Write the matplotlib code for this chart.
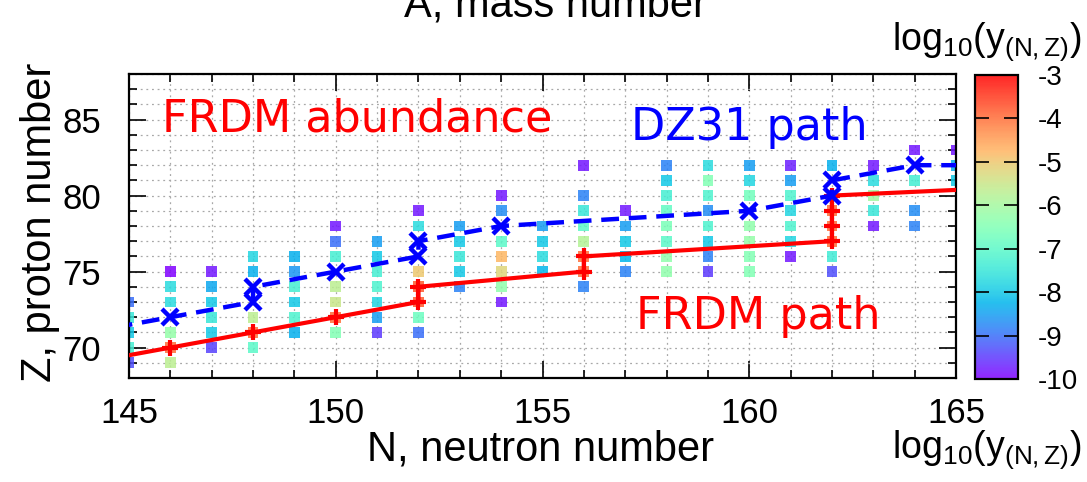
import matplotlib
matplotlib.use("Agg")
import matplotlib.pyplot as plt
import numpy as np
from matplotlib.colors import ListedColormap
from matplotlib.ticker import MultipleLocator

# abundance cells: neutron number, proton number, log10 abundance
cell_n = [145]*5 + [146]*6 + [147]*6 + [148]*5 + [149]*6 + [150]*7 + [151]*7 \
    + [152]*7 + [153]*5 + [154]*7 + [155]*4 + [156]*8 + [157]*5 + [158]*8 \
    + [159]*8 + [160]*7 + [161]*7 + [162]*7 + [163]*5 + [164]*4 + [165]*3
cell_z = [69, 70, 71, 72, 73,
          69, 70, 71, 73, 74, 75,
          70, 71, 72, 73, 74, 75,
          70, 71, 72, 75, 76,
          71, 72, 73, 74, 75, 76,
          71, 72, 73, 74, 76, 77, 78,
          71, 72, 73, 74, 75, 76, 77,
          71, 72, 73, 74, 75, 78, 79,
          74, 75, 76, 77, 78,
          73, 74, 75, 76, 77, 79, 80,
          75, 76, 77, 78,
          74, 75, 76, 77, 78, 79, 80, 82,
          75, 76, 77, 78, 79,
          75, 76, 77, 78, 79, 80, 81, 82,
          75, 76, 77, 78, 79, 80, 81, 82,
          75, 76, 77, 78, 80, 81, 82,
          76, 77, 78, 79, 80, 81, 82,
          75, 76, 77, 78, 79, 80, 82,
          78, 79, 80, 81, 82,
          78, 79, 81, 83,
          81, 82, 83]
cell_logy = [-9.3, -7.3, -8.0, -7.5, -9.0,
             -5.7, -4.0, -6.2, -7.7, -7.7, -10.0,
             -9.4, -8.0, -7.5, -8.0, -8.4, -9.8,
             -7.0, -4.0, -5.7, -8.3, -7.8,
             -8.3, -7.2, -8.0, -7.3, -8.6, -8.3,
             -6.5, -4.0, -5.5, -5.7, -7.3, -9.0, -9.8,
             -9.5, -8.5, -7.8, -7.2, -7.3, -8.0, -8.5,
             -9.0, -6.8, -3.8, -3.8, -5.0, -7.7, -9.8,
             -8.8, -8.0, -7.5, -8.0, -8.5,
             -9.8, -6.3, -5.2, -4.8, -7.0, -8.7, -9.8,
             -8.2, -7.7, -8.0, -8.5,
             -8.8, -4.0, -4.0, -5.8, -7.0, -7.5, -8.8, -9.8,
             -8.8, -8.2, -8.0, -8.5, -9.8,
             -6.3, -6.3, -7.0, -6.6, -6.9, -7.3, -8.0, -8.8,
             -9.5, -8.8, -8.0, -7.2, -8.7, -7.2, -6.5, -7.7,
             -6.5, -6.5, -6.2, -6.3, -6.7, -7.8, -8.5,
             -9.8, -7.8, -7.2, -7.8, -7.2, -8.5, -9.7,
             -9.3, -7.4, -4.0, -4.0, -4.0, -4.0, -8.3,
             -9.8, -7.5, -6.0, -7.7, -9.8,
             -8.8, -8.7, -7.3, -9.8,
             -8.0, -8.3, -9.8]

frdm_n = [144, 146, 148, 150, 152, 152, 156, 156, 162, 162, 162, 162, 170]
frdm_z = [69, 70, 71, 72, 73, 74, 75, 76, 77, 78, 79, 80, 81]
dz31_n = [144, 146, 148, 148, 150, 152, 152, 154, 160, 162, 162, 164, 166]
dz31_z = [71, 72, 73, 74, 75, 76, 77, 78, 79, 80, 81, 82, 82]

cbar_ticks = [-3, -4, -5, -6, -7, -8, -9, -10]

# gnuplot-like rainbow palette (rgbformulae 33,13,10)
t = np.linspace(0, 1, 256)
pal = np.clip(np.column_stack([np.abs(2*t - 0.5), np.sin(np.pi*t), np.cos(np.pi*t/2)]), 0, 1)
cmap = ListedColormap(pal)

plt.rcParams['mathtext.fontset'] = 'custom'
plt.rcParams['mathtext.rm'] = 'Liberation Sans'
plt.rcParams['mathtext.it'] = 'Liberation Sans'

fig = plt.figure(figsize=(10.87, 4.82), dpi=100)
ax = fig.add_axes([129/1087, 1-378/482, 827/1087, 304/482])

ax.set_axisbelow(True)
ax.grid(True, which='both', color='#a8a8a8', linestyle=(0, (1.5, 3)), linewidth=0.9)

sc = ax.scatter(cell_n, cell_z, c=cell_logy, cmap=cmap, vmin=-10, vmax=-3,
                marker='s', s=60, linewidths=0, alpha=0.85, zorder=2)

ax.plot(frdm_n, frdm_z, color='red', lw=3, marker='+', ms=12, mew=3, zorder=3)
ax.plot(dz31_n, dz31_z, color='blue', lw=3.2, ls=(0, (4, 2.2)), marker='x', ms=11,
        mew=3.2, zorder=4)

ax.set_xlim(145, 165)
ax.set_ylim(68, 88)
ax.xaxis.set_major_locator(MultipleLocator(5))
ax.xaxis.set_minor_locator(MultipleLocator(1))
ax.yaxis.set_major_locator(MultipleLocator(5))
ax.yaxis.set_minor_locator(MultipleLocator(1))
ax.tick_params(which='both', direction='in', top=True, right=True, width=1.2)
ax.tick_params(which='major', length=12)
ax.tick_params(which='minor', length=5.5)
ax.tick_params(axis='x', pad=14, labelsize=25)
ax.tick_params(axis='y', pad=20, labelsize=25)
for lab in ax.get_xticklabels() + ax.get_yticklabels():
    lab.set_fontfamily('Liberation Sans')
for s in ax.spines.values():
    s.set_linewidth(1.6)

ax.text(145.8, 84.2, 'FRDM abundance', color='red', fontsize=32, family='DejaVu Sans')
ax.text(157.15, 83.65, 'DZ31 path', color='blue', fontsize=32, family='DejaVu Sans')
ax.text(157.25, 71.2, 'FRDM path', color='red', fontsize=32, family='DejaVu Sans')

fig.text(40/1087, 1-222/482, 'Z, proton number', rotation=90, ha='center', va='center',
         fontsize=30, family='Liberation Sans')
fig.text(541/1087, 1-450/482, 'N, neutron number', ha='center', va='center',
         fontsize=30, family='Liberation Sans')
fig.text(555/1087, 1-17/482, 'A, mass number', ha='center', va='baseline',
         fontsize=30, family='Liberation Sans')

cax = fig.add_axes([975/1087, 1-379/482, 43/1087, 304/482])
cb = fig.colorbar(sc, cax=cax, ticks=cbar_ticks)
cb.solids.set_alpha(0.85)
cb.outline.set_linewidth(1.6)
cax.tick_params(direction='in', left=True, right=True, length=10, width=1.2,
                labelsize=20, pad=14)
cax.set_yticklabels([str(v) for v in cbar_ticks])
for lab in cax.get_yticklabels():
    lab.set_fontfamily('Liberation Sans')

lbl = r'log$_{10}$(y$_{\mathrm{(N,Z)}}$)'
fig.text(1082/1087, 1-50/482, lbl, ha='right', va='baseline', fontsize=27,
         family='Liberation Sans')
fig.text(1082/1087, 1-458/482, lbl, ha='right', va='baseline', fontsize=27,
         family='Liberation Sans')

fig.savefig('out.png', dpi=100)
